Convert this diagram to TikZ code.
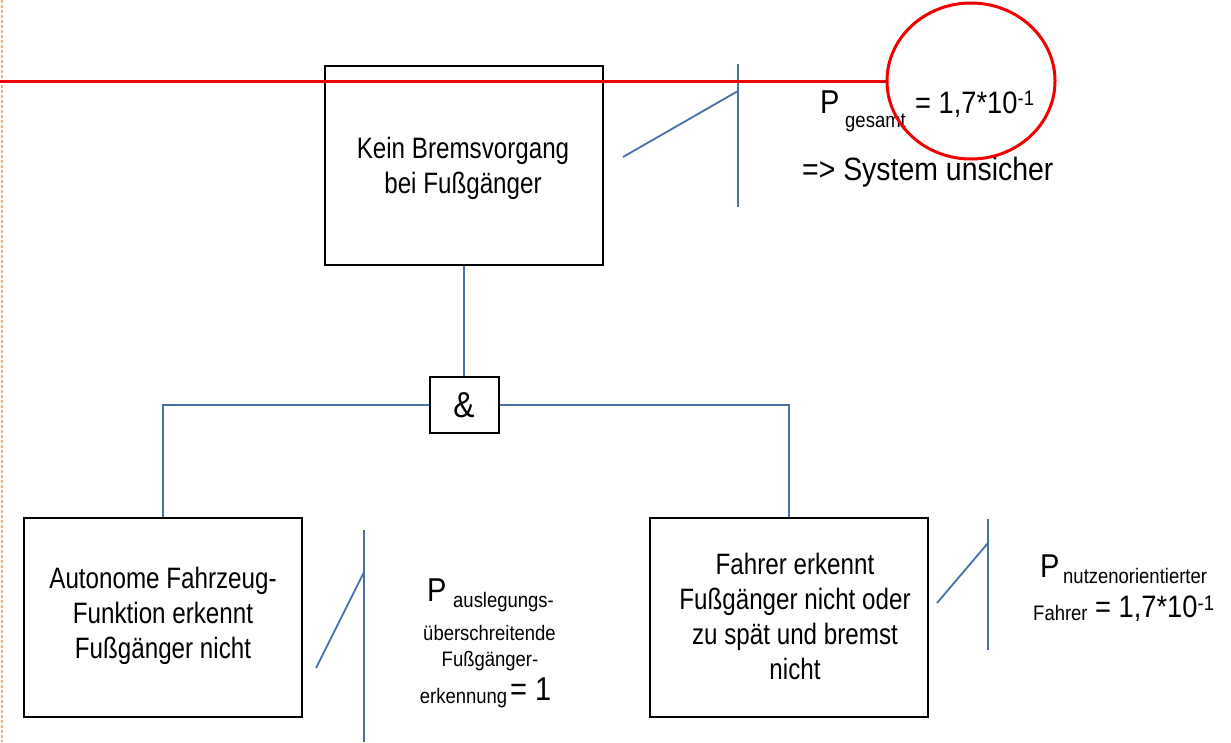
\documentclass[tikz,border=0pt]{standalone}
\usepackage{fontspec}
\setmainfont{Liberation Sans}
\newfontfamily\narrowfont[FakeStretch=0.82]{Liberation Sans}
\newfontfamily\formfont[FakeStretch=0.88]{Liberation Sans}
\usetikzlibrary{shapes.geometric}
\definecolor{gateblue}{RGB}{70,112,168}
\definecolor{alarmred}{RGB}{240,0,0}
\definecolor{marginorange}{RGB}{242,170,120}
\newcommand{\fsz}[1]{\fontsize{#1}{35}\selectfont}
\begin{document}
\begin{tikzpicture}[x=1pt,y=-1pt,
  eventbox/.style={draw=black, line width=2pt, minimum width=278pt, minimum height=199pt, inner sep=0pt},
  andbox/.style={draw=black, line width=2pt, minimum width=69pt, minimum height=56pt, inner sep=0pt, font=\formfont\fsz{36}},
  boxtext/.style={align=center, font=\narrowfont\fsz{29.5}, inner sep=0pt},
  wire/.style={draw=gateblue, line width=1.8pt},
  formula/.style={inner sep=0pt, anchor=base west, font=\formfont\fsz{31}},
  subtext/.style={inner sep=0pt, font=\formfont\fsz{21}},
  redmark/.style={draw=alarmred, line width=3pt}]
\useasboundingbox (0,0) rectangle (1231,742);

% margin line
\coordinate (mtop) at (2,0);
\coordinate (mbot) at (2,742);
\draw[marginorange, line width=1.3pt, dash pattern=on 3pt off 2pt] (mtop) -- (mbot);

% boxes
\node[eventbox] (top) at (464,165.5) {};
\node[eventbox] (left) at (163,617.5) {};
\node[eventbox] (right) at (789,617.5) {};
\node[andbox] (and) at (464,405) {\&};

\node[boxtext] (toptext) at (463,168) {Kein Bremsvorgang\\bei Fußgänger};
\node[boxtext] (lefttext) at (163,615.4) {Autonome Fahrzeug-\\Funktion erkennt\\Fußgänger nicht};
\node[boxtext] (righttext) at (795,616.8) {Fahrer erkennt\\Fußgänger nicht oder\\zu spät und bremst\\nicht};

% wires
\draw[wire] (top.south) -- (and.north);
\draw[wire] (and.west) -| (left.north);
\draw[wire] (and.east) -| (right.north);

% gate indicators
\coordinate (tv1) at (738,64);
\coordinate (tv2) at (738,207);
\coordinate (ts1) at (623,157);
\coordinate (ts2) at (738,91);
\draw[wire] (tv1) -- (tv2);
\draw[wire] (ts1) -- (ts2);

\coordinate (lv1) at (364,530);
\coordinate (lv2) at (364,742);
\coordinate (ls1) at (316,668);
\coordinate (ls2) at (364,572);
\draw[wire] (lv1) -- (lv2);
\draw[wire] (ls1) -- (ls2);

\coordinate (rv1) at (988,519);
\coordinate (rv2) at (988,650);
\coordinate (rs1) at (937,603);
\coordinate (rs2) at (988,543);
\draw[wire] (rv1) -- (rv2);
\draw[wire] (rs1) -- (rs2);

% probability texts
\node[formula, font=\formfont\fsz{33}] (pg) at (820,113) {P};
\node[subtext, anchor=base west] (pg1) at (845,127) {gesamt};
\node[formula] (pg2) at (915,113) {= 1,7*10\raisebox{8pt}{\fsz{21}-1}};
\node[formula, font=\formfont\fsz{32.3}] (unsicher) at (802,180) {=> System unsicher};

\node[formula, font=\formfont\fsz{33}] (pl) at (427,601) {P};
\node[subtext, anchor=base west] (pl1) at (453,607) {auslegungs-};
\node[subtext, anchor=base] (pl2) at (489.5,640) {überschreitende};
\node[subtext, anchor=base] (pl3) at (490,666) {Fußgänger-};
\node[subtext, anchor=base] (pl4) at (463.5,703) {erkennung};
\node[formula, font=\formfont\fsz{33}] (pl5) at (510,700) {= 1};

\node[formula, font=\formfont\fsz{33}] (pr) at (1040,577) {P};
\node[subtext, anchor=base west] (pr1) at (1063,583) {nutzenorientierter};
\node[subtext, anchor=base west] (pr2) at (1033,620) {Fahrer};
\node[formula] (pr3) at (1095,617) {= 1,7*10\raisebox{7pt}{\fsz{21}-1}};

% red marking
\node[draw=alarmred, line width=3pt, ellipse, minimum width=168pt, minimum height=156pt, inner sep=0pt] (circ) at (971,81) {};
\coordinate (redstart) at (0,81);
\draw[redmark] (redstart) -- (circ.west);
\end{tikzpicture}
\end{document}
